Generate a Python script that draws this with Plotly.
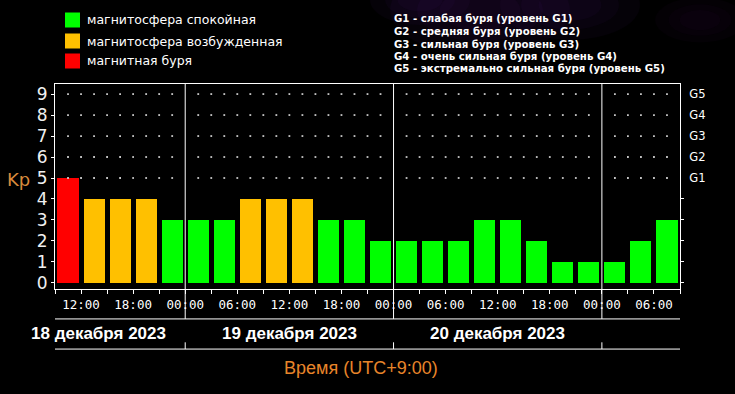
import plotly.graph_objects as go
import pandas as pd

# ---- data ----
start_time = "2023-12-18 09:00"
kp_values = [5, 4, 4, 4, 3,
             3, 3, 4, 4, 4, 3, 3, 2,
             2, 2, 2, 3, 3, 2, 1, 1,
             1, 2, 3]
y_ticks = [0, 1, 2, 3, 4, 5, 6, 7, 8, 9]
g_ticks = [5, 6, 7, 8, 9]
g_labels = ["G1", "G2", "G3", "G4", "G5"]
day_labels = ["18 декабря 2023", "19 декабря 2023", "20 декабря 2023"]
legend_labels = ["магнитосфера спокойная", "магнитосфера возбужденная", "магнитная буря"]
g_descriptions = [
    "G1 - слабая буря (уровень G1)",
    "G2 - средняя буря (уровень G2)",
    "G3 - сильная буря (уровень G3)",
    "G4 - очень сильная буря (уровень G4)",
    "G5 - экстремально сильная буря (уровень G5)",
]
x_title = "Время (UTC+9:00)"

GREEN = "#00ff00"
YELLOW = "#ffc000"
RED = "#ff0000"

t0 = pd.Timestamp(start_time)
bin_h = 3
centers = [t0 + pd.Timedelta(hours=bin_h * i + bin_h / 2) for i in range(len(kp_values))]
t_end = t0 + pd.Timedelta(hours=bin_h * len(kp_values))

def color_of(v):
    if v >= 5:
        return RED
    if v == 4:
        return YELLOW
    return GREEN

fig = go.Figure()

bar_ms = bin_h * 3600 * 1000 * 0.81
fig.add_trace(go.Bar(
    x=centers, y=kp_values,
    marker=dict(color=[color_of(v) for v in kp_values], line=dict(width=0)),
    width=[bar_ms] * len(kp_values),
    showlegend=False, hoverinfo="skip",
))

# dotted grid (rows 5..9, every 1.5 h, not at day borders)
dx, dy = [], []
n_steps = int((t_end - t0) / pd.Timedelta(hours=1.5))
for k in range(1, n_steps):
    t = t0 + pd.Timedelta(hours=1.5 * k)
    if t.hour == 0 and t.minute == 0:
        continue
    for yv in range(5, 10):
        dx.append(t)
        dy.append(yv)
fig.add_trace(go.Scatter(
    x=dx, y=dy, mode="markers",
    marker=dict(color="#c8c8c8", size=1.8, symbol="square", line=dict(width=0)),
    showlegend=False, hoverinfo="skip", yaxis="y2",
))

# day divider lines
days = pd.date_range(t0.normalize() + pd.Timedelta(days=1), t_end, freq="D")
for d in days:
    fig.add_shape(type="line", xref="x", yref="paper", x0=d, x1=d, y0=-0.146, y1=1,
                  line=dict(color="white", width=1))
    fig.add_shape(type="line", xref="x", yref="paper", x0=d, x1=d, y0=-0.26, y1=-0.293,
                  line=dict(color="white", width=1))
for yy in (-0.146, -0.293):
    fig.add_shape(type="line", xref="paper", yref="paper", x0=0, x1=1, y0=yy, y1=yy,
                  line=dict(color="white", width=1))

# day labels
label_pos = [t0 + pd.Timedelta(hours=5), days[0] + pd.Timedelta(hours=12), days[1] + pd.Timedelta(hours=12)]
for lab, xp in zip(day_labels, label_pos):
    fig.add_annotation(x=xp, y=-0.215, xref="x", yref="paper", text="<b>" + lab + "</b>",
                       showarrow=False, xanchor="center", yanchor="middle",
                       font=dict(family="Liberation Sans, Arial, sans-serif",
                                 size=17, color="white"))

fig.add_annotation(x=0.489, y=-0.385, xref="paper", yref="paper", text=x_title, showarrow=False,
                   xanchor="center", yanchor="middle",
                   font=dict(family="Liberation Sans, Arial, sans-serif",
                             size=18, color="#e8852a"))
fig.add_annotation(x=-0.059, y=0.532, xref="paper", yref="paper", text="Kp", showarrow=False,
                   xanchor="center", yanchor="middle",
                   font=dict(family="DejaVu Sans, sans-serif", size=18, color="#d98a3c"))

# legend (left)
leg_colors = [GREEN, YELLOW, RED]
leg_y = [20, 41, 61]
for lab, col, yp in zip(legend_labels, leg_colors, leg_y):
    fig.add_shape(type="rect", xref="paper", yref="paper",
                  x0=(65 - 55) / 625, x1=(80 - 55) / 625,
                  y0=(289 - yp - 7.5) / 205, y1=(289 - yp + 7.5) / 205,
                  fillcolor=col, line=dict(width=0))
    fig.add_annotation(x=(85 - 55) / 625, y=(289 - yp) / 205, xref="paper", yref="paper",
                       text=lab, showarrow=False, xanchor="left", yanchor="middle",
                       font=dict(family="DejaVu Sans, sans-serif", size=12.5, color="white"))

# G descriptions (right)
g_y = [19, 31.5, 44, 56.5, 69]
for txt, yp in zip(g_descriptions, g_y):
    fig.add_annotation(x=(392 - 55) / 625, y=(289 - yp) / 205, xref="paper", yref="paper",
                       text="<b>" + txt + "</b>", showarrow=False, xanchor="left", yanchor="middle",
                       font=dict(family="DejaVu Sans, sans-serif", size=10.2, color="white"))

# faint purple haze at the top
haze = [(480, 10, 90, 0.07), (570, 5, 70, 0.06), (420, 0, 50, 0.06), (700, 20, 45, 0.04)]
for cx, cy, r, op in haze:
    for s in (1.0, 0.7, 0.45):
        fig.add_shape(type="circle", xref="paper", yref="paper", layer="below",
                      x0=(cx - r * s - 55) / 625, x1=(cx + r * s - 55) / 625,
                      y0=(289 - cy - r * s * 0.5) / 205, y1=(289 - cy + r * s * 0.5) / 205,
                      fillcolor="#5a1a80", opacity=op, line=dict(width=0))

tickvals = pd.date_range(t0 + pd.Timedelta(hours=3), t_end - pd.Timedelta(hours=1), freq="6h")
fig.update_layout(
    width=735, height=394,
    margin=dict(l=55, r=55, t=84, b=105),
    paper_bgcolor="black", plot_bgcolor="rgba(0,0,0,0)",
    bargap=0,
    xaxis=dict(
        range=[t0, t_end], type="date",
        tickvals=list(tickvals), ticktext=[t.strftime("%H:%M") for t in tickvals],
        ticks="outside", ticklen=4, tickcolor="white",
        minor=dict(dtick=3 * 3600 * 1000, ticks="outside", ticklen=4, tickcolor="white",
                   tick0=t0, showgrid=False),
        showgrid=False, zeroline=False,
        showline=True, linecolor="white", linewidth=1, mirror=True,
        tickfont=dict(family="DejaVu Sans Mono, monospace", size=12.5, color="white"),
    ),
    yaxis=dict(
        range=[-0.29, 9.48], tickvals=y_ticks,
        ticks="outside", ticklen=3, tickcolor="white",
        showgrid=False, zeroline=False,
        showline=True, linecolor="white", linewidth=1,
        tickfont=dict(family="DejaVu Sans, sans-serif", size=17, color="#f0f0f0"),
    ),
    yaxis2=dict(
        range=[-0.29, 9.48], overlaying="y", side="right",
        tickmode="array", tickvals=g_ticks, ticktext=g_labels,
        ticks="", ticklabelstandoff=6,
        minor=dict(tickmode="array", tickvals=[v for v in y_ticks if v not in g_ticks],
                   ticks="outside", ticklen=3, tickcolor="white", showgrid=False),
        showgrid=False, zeroline=False,
        showline=True, linecolor="white", linewidth=1,
        tickfont=dict(family="DejaVu Sans, sans-serif", size=11.5, color="white"),
    ),
)

fig.write_html("out.html", config={"displayModeBar": False},
               post_script="document.body.style.margin='0';document.body.style.background='black';")
